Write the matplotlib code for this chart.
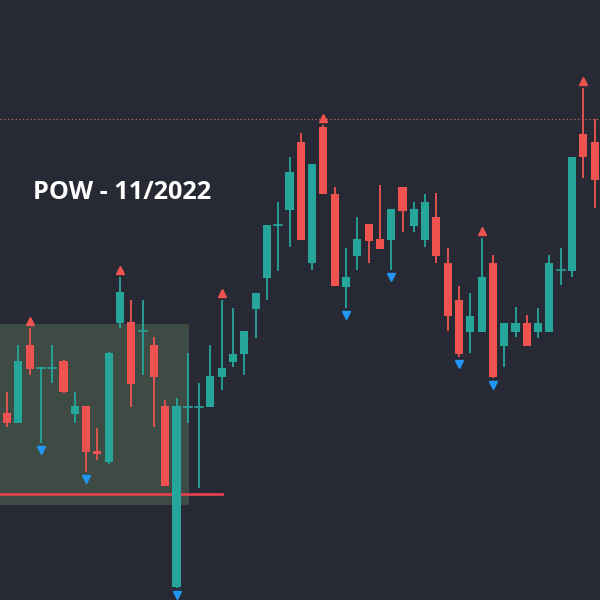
import matplotlib
matplotlib.use("Agg")
import matplotlib.pyplot as plt
from matplotlib.patches import Rectangle
import numpy as np

# ---- data (price units) ----
opens  = [187,177,255,232,232,239,186,194,149,138,277,278,269,255,194, 13,193,193,193,223,
          238,246,291,322,375,390,458,337,473,406,313,344,376,361,360,413,374,360,383,337,
          300,268,268,337,254,268,277,268,268,330,329,466,458]
closes = [177,239,231,232,232,208,194,148,146,247,308,216,269,223,114,194,193,193,224,232,
          246,269,307,375,375,428,360,436,406,314,323,361,359,351,391,389,391,398,344,284,
          246,284,323,223,277,277,254,277,337,330,443,443,420]
highs  = [208,255,272,233,255,240,208,194,172,248,323,300,300,263,200,202,247,217,255,300,
          292,269,307,375,398,443,467,436,475,413,352,383,376,415,391,413,398,406,407,352,
          314,307,362,345,277,293,285,292,345,352,443,512,481]
lows   = [173,177,225,157,217,207,177,128,140,136,272,193,225,173,114, 12,177,112,193,210,
          233,225,262,300,329,353,360,330,406,314,292,330,337,351,330,368,368,353,337,269,
          243,247,268,222,233,263,254,262,268,315,323,422,392]

swing_high_idx = [2, 10, 19, 28, 42, 51]
swing_low_idx  = [3, 7, 15, 30, 34, 40, 43]

support_level = 106
resistance_level = 481
zone_start, zone_end = -0.62, 16.1
zone_low, zone_high = 95, 276
support_end = 19.0

title = "POW - 11/2022"

# ---- style ----
BG = "#272a34"
UP = "#26a69a"
DOWN = "#ef5350"
BLUE = "#2196f3"
ZONE = "#3e4b45"

fig = plt.figure(figsize=(6, 6), dpi=100, facecolor=BG)
ax = fig.add_axes([0, 0, 1, 1])
ax.set_facecolor(BG)
n = len(opens)
x = np.arange(n)
ax.set_xlim(-0.62, -0.62 + 600 / 11.3)
ax.set_ylim(0, 600)
ax.axis("off")

# zone
ax.add_patch(Rectangle((zone_start - 1, zone_low), zone_end - zone_start + 1,
                       zone_high - zone_low, facecolor=ZONE, edgecolor="none", zorder=1))
# support line
ax.plot([-2, support_end], [support_level, support_level], color="#e0414f", lw=2.0, zorder=2)
# resistance dotted line
ax.axhline(resistance_level, color="#c8675c", lw=0.9, ls=(0, (1, 2)), zorder=2)

w = 0.72
for i in range(n):
    o, c, h, l = opens[i], closes[i], highs[i], lows[i]
    col = UP if c >= o else DOWN
    ax.vlines(i, l, h, color=col, lw=1.3, zorder=3)
    bot = min(o, c)
    height = abs(c - o)
    if height < 1.2:
        ax.plot([i - w / 2, i + w / 2], [o, o], color=col, lw=1.2, zorder=4)
    else:
        ax.bar(i, height, bottom=bot, width=w, color=col, edgecolor="none", zorder=4)

for i in swing_high_idx:
    ax.plot(i, highs[i] + 7, marker="^", color=DOWN, markersize=5.5, ls="none", zorder=5)
for i in swing_low_idx:
    ax.plot(i, lows[i] - 7, marker="v", color=BLUE, markersize=5.5, ls="none", zorder=5)

ax.text(33 / 600, 1 - 192 / 600, title, transform=ax.transAxes, color="white",
        fontsize=18.2, fontweight="bold", family=["Open Sans", "DejaVu Sans"],
        ha="left", va="center", zorder=6)

fig.savefig("out.png", dpi=100, facecolor=BG)
